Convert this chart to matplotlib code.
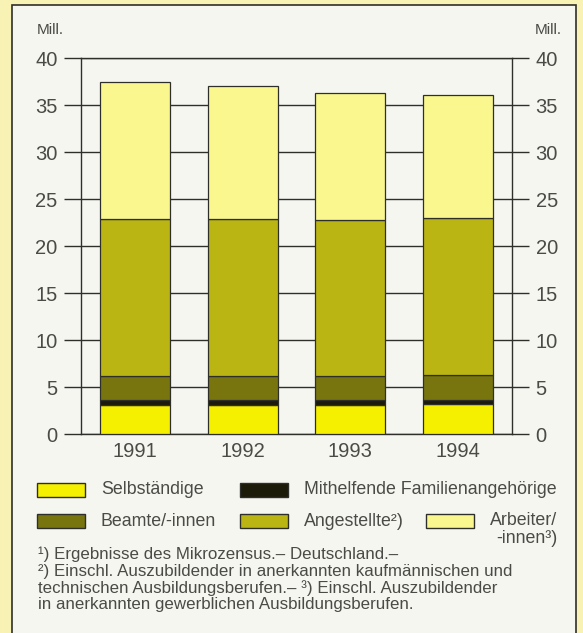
import numpy as np
import matplotlib.pyplot as plt
from matplotlib.patches import Rectangle

plt.rcParams['font.family'] = ['Liberation Sans', 'DejaVu Sans']

'''DATA'''
years = ['1991', '1992', '1993', '1994']
selbst = [3.05, 3.08, 3.12, 3.15]        # Selbständige [Mill.]
mithelf = [0.55, 0.52, 0.50, 0.48]       # Mithelfende Familienangehörige
beamte = [2.57, 2.60, 2.55, 2.60]        # Beamte/-innen
angest = [16.73, 16.72, 16.63, 16.70]    # Angestellte
arbeiter = [14.55, 14.05, 13.50, 13.12]  # Arbeiter/-innen

series = [selbst, mithelf, beamte, angest, arbeiter]
colors = ['#f5ef00', '#1c1a08', '#78750f', '#bbb514', '#f9f78e']
labels = ['Selbständige', 'Mithelfende Familienangehörige', 'Beamte/-innen',
          'Angestellte²)', 'Arbeiter/\n-innen³)']

txt = '#4a4a46'
line = '#2e2e2a'

W, H = 583, 633
fig = plt.figure(figsize=(W/100, H/100), dpi=100)
fig.patch.set_facecolor('#f8f2b4')

# white panel with frame (behind the axes)
fig.patches.append(Rectangle((12/W, -0.01), 564/W, 1 - 5/H + 0.01, transform=fig.transFigure,
                             facecolor='#f6f6f1', edgecolor=line, linewidth=1.2, zorder=-5))

ax = fig.add_axes([81/W, 1 - 434/H, 431/W, 376/H])
ax.set_facecolor('none')

x = np.arange(len(years))
bottom = np.zeros(len(years))
for vals, c in zip(series, colors):
    ax.bar(x, vals, width=0.65, bottom=bottom, color=c, edgecolor=line, linewidth=0.9, zorder=3)
    bottom += np.array(vals)

ax.set_xlim(-0.5, 3.5)
ax.set_ylim(0, 40)
ax.set_yticks(np.arange(0, 41, 5))
ax.set_xticks(x)
ax.set_xticklabels(years)
ax.yaxis.grid(True, color=line, linewidth=1.0, zorder=0)
ax.set_axisbelow(True)
ax.tick_params(axis='y', left=True, right=True, labelleft=True, labelright=True,
               length=12, width=1.0, color=line, labelsize=14.5, labelcolor=txt, pad=5)
ax.tick_params(axis='x', length=0, labelsize=14.5, labelcolor=txt, pad=6)
for s in ax.spines.values():
    s.set_color(line)
    s.set_linewidth(1.0)

fig.text(37/W, 1 - 30/H, 'Mill.', fontsize=11, color=txt, va='center')
fig.text(535/W, 1 - 30/H, 'Mill.', fontsize=11, color=txt, va='center')

# legend
fs = 12.8
pos = [(37, 490), (240, 490), (37, 521), (240, 521), (426, 521)]
for (px, py), c, lab in zip(pos, colors, labels):
    fig.patches.append(Rectangle((px/W, 1 - (py + 7)/H), 48/W, 14/H, transform=fig.transFigure,
                                 facecolor=c, edgecolor=line, linewidth=1.0))
    if '\n' in lab:
        fig.text((px + 64)/W, 1 - (py - 9)/H, lab, fontsize=fs, color=txt, va='top',
                 ha='left', linespacing=1.1, multialignment='right')
    else:
        fig.text((px + 64)/W, 1 - py/H, lab, fontsize=fs, color=txt, va='center')

# footnotes
notes = ['¹) Ergebnisse des Mikrozensus.– Deutschland.–',
         '²) Einschl. Auszubildender in anerkannten kaufmännischen und',
         'technischen Ausbildungsberufen.– ³) Einschl. Auszubildender',
         'in anerkannten gewerblichen Ausbildungsberufen.']
fig.text(38/W, 1 - 547/H, '\n'.join(notes), fontsize=12.2, color=txt, va='top',
         linespacing=1.1)

fig.savefig('out.png', dpi=100, facecolor=fig.get_facecolor())
